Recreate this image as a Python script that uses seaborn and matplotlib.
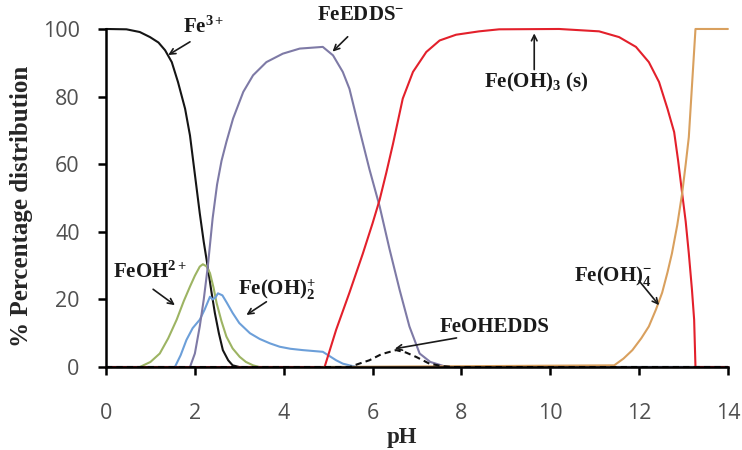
import numpy as np
import pandas as pd
import matplotlib
matplotlib.use("Agg")
import matplotlib.pyplot as plt
import seaborn as sns

# ---- data ----
ph_fe3 = [0.0, 0.46, 0.76, 0.99, 1.18, 1.33, 1.48, 1.62, 1.78, 1.89, 2.0, 2.11, 2.2, 2.29,
          2.37, 2.45, 2.54, 2.63, 2.75, 2.85, 3.0, 14.0]
v_fe3 = [100.0, 99.9, 99.1, 97.6, 96.0, 93.7, 90.2, 84.3, 76.4, 68.5, 57.0, 45.5, 37.0, 29.6,
         22.5, 16.0, 10.0, 5.0, 2.0, 0.5, 0.0, 0.0]

ph_feoh = [0.0, 0.76, 1.0, 1.21, 1.40, 1.59, 1.75, 1.89, 2.0, 2.11, 2.18, 2.26, 2.34, 2.42,
           2.49, 2.60, 2.71, 2.85, 3.01, 3.15, 3.31, 3.45, 14.0]
v_feoh = [0.0, 0.0, 1.5, 4.0, 8.5, 14.0, 19.5, 23.8, 27.0, 29.7, 30.4, 29.8, 27.8, 23.5,
          18.9, 13.5, 9.0, 5.5, 3.0, 1.5, 0.5, 0.0, 0.0]

ph_feoh2 = [0.0, 1.55, 1.68, 1.81, 1.95, 2.11, 2.22, 2.34, 2.40, 2.46, 2.52, 2.62, 2.72, 2.85,
            3.0, 3.24, 3.46, 3.69, 3.91, 4.15, 4.43, 4.70, 4.88, 5.0, 5.18, 5.33, 5.48, 5.65, 14.0]
v_feoh2 = [0.0, 0.0, 3.5, 8.0, 11.5, 14.0, 17.0, 20.8, 20.0, 20.5, 21.8, 21.2, 19.0, 16.0,
           13.0, 10.0, 8.3, 7.0, 6.0, 5.4, 5.0, 4.7, 4.5, 3.5, 2.0, 1.0, 0.5, 0.0, 0.0]

ph_feedds = [0.0, 1.89, 2.0, 2.11, 2.2, 2.29, 2.4, 2.5, 2.6, 2.71, 2.86, 3.09, 3.31, 3.61,
             3.98, 4.36, 4.88, 5.11, 5.33, 5.48, 5.71, 5.93, 6.16, 6.38, 6.61, 6.83, 7.06,
             7.30, 7.60, 7.80, 14.0]
v_feedds = [0.0, 0.0, 4.0, 12.0, 20.0, 29.6, 44.0, 54.0, 61.0, 66.6, 73.5, 81.4, 86.3, 90.2,
            92.7, 94.2, 94.7, 92.2, 87.3, 82.3, 70.0, 58.5, 47.5, 35.0, 22.8, 12.0, 4.0,
            1.5, 0.3, 0.0, 0.0]

ph_fe_s = [0.0, 4.92, 5.18, 5.48, 5.78, 6.0, 6.16, 6.31, 6.46, 6.68, 6.91, 7.21, 7.51, 7.88,
           8.4, 8.85, 10.2, 11.1, 11.55, 11.93, 12.22, 12.45, 12.64, 12.79, 12.88, 12.97,
           13.05, 13.12, 13.19, 13.24, 13.27, 14.0]
v_fe_s = [0.0, 0.0, 11.0, 22.0, 33.5, 42.5, 49.5, 57.5, 66.0, 79.4, 87.3, 93.2, 96.6, 98.3,
          99.3, 99.9, 100.0, 99.3, 97.6, 94.7, 90.2, 84.3, 76.4, 69.5, 61.0, 51.4,
          43.0, 33.6, 23.0, 14.0, 0.0, 0.0]

ph_fe4 = [4.9, 11.44, 11.65, 11.85, 12.05, 12.22, 12.38, 12.52, 12.64, 12.74, 12.86, 12.97,
          13.05, 13.12, 13.27, 14.0]
v_fe4 = [0.0, 0.5, 2.5, 5.0, 8.5, 12.0, 17.0, 22.0, 28.0, 33.6, 42.0, 51.4,
         60.0, 68.0, 100.0, 100.0]

ph_feohedds = [0.0, 5.48, 5.7, 5.93, 6.2, 6.53, 6.75, 6.98, 7.28, 7.55, 7.8, 14.0]
v_feohedds = [0.0, 0.0, 1.0, 2.0, 3.8, 5.0, 4.3, 3.0, 1.0, 0.3, 0.0, 0.0]

x_ticks = [0, 2, 4, 6, 8, 10, 12, 14]
y_ticks = [0, 20, 40, 60, 80, 100]

labels = {
    "fe3": r"Fe$^{\mathbf{3+}}$",
    "feedds": r"FeEDDS$^{\mathbf{-}}$",
    "feoh": r"FeOH$^{\mathbf{2+}}$",
    "feoh2": r"Fe(OH)$_{\mathbf{2}}^{\mathbf{+}}$",
    "fe_s": r"Fe(OH)$_{\mathbf{3}}$ (s)",
    "fe4": r"Fe(OH)$_{\mathbf{4}}^{\mathbf{-}}$",
    "feohedds": "FeOHEDDS",
}

# ---- style ----
sns.set_style("ticks")
plt.rcParams["mathtext.fontset"] = "custom"
plt.rcParams["mathtext.rm"] = "Liberation Serif:bold"
plt.rcParams["mathtext.bf"] = "Liberation Serif:bold"
plt.rcParams["mathtext.it"] = "Liberation Serif:bold"

fig = plt.figure(figsize=(7.42, 4.5), dpi=100)
ax = fig.add_axes([0.1429, 0.1844, 0.981 - 0.1429, 0.9356 - 0.1844])

series = [
    (ph_fe3, v_fe3, "#151515"),
    (ph_feoh, v_feoh, "#9DB463"),
    (ph_feoh2, v_feoh2, "#6C9FD9"),
    (ph_feedds, v_feedds, "#7E7AA6"),
    (ph_fe_s, v_fe_s, "#E3202B"),
    (ph_fe4, v_fe4, "#D9A05E"),
]
for xs, ys, col in series:
    df = pd.DataFrame({"pH": xs, "pct": ys})
    sns.lineplot(data=df, x="pH", y="pct", ax=ax, color=col, lw=1.5,
                 sort=False, estimator=None, clip_on=False)

df = pd.DataFrame({"pH": ph_feohedds, "pct": v_feohedds})
sns.lineplot(data=df, x="pH", y="pct", ax=ax, color="#111111", lw=1.5,
             sort=False, estimator=None, clip_on=False, linestyle=(0, (3, 2)))

ax.set_xlim(0, 14)
ax.set_ylim(0, 100)
ax.set_xticks(x_ticks)
ax.set_yticks(y_ticks)
sns.despine(ax=ax)
for s in ["left", "bottom"]:
    ax.spines[s].set_linewidth(1.8)
    ax.spines[s].set_color("black")
ax.tick_params(axis="both", direction="out", length=6, width=1.8, color="black",
               labelsize=15.5, labelcolor="#505050")
ax.tick_params(axis="x", pad=20)
ax.tick_params(axis="y", pad=13)
for lab in ax.get_xticklabels() + ax.get_yticklabels():
    lab.set_fontfamily("Open Sans")

ax.set_xlabel("pH", fontfamily="Liberation Serif", fontweight="bold", fontsize=16.5)
ax.set_ylabel("% Percentage distribution", fontfamily="Liberation Serif", fontweight="bold",
              fontsize=18)
ax.xaxis.set_label_coords(0.476, -0.178)
ax.yaxis.set_label_coords(-0.117, 0.475)

akw = dict(arrowstyle="->", color="#1a1a1a", lw=1.2, shrinkA=0, shrinkB=0)

def note(key, xy_text, xy_tail, xy_head):
    ax.text(xy_text[0], xy_text[1], labels[key], fontfamily="Liberation Serif",
            fontweight="bold", fontsize=15, color="#1a1a1a", ha="center", va="center",
            clip_on=False)
    ax.annotate("", xy=xy_head, xytext=xy_tail, arrowprops=akw, annotation_clip=False)

note("fe3", (2.2, 100.5), (1.89, 96.2), (1.40, 92.3))
note("feedds", (5.73, 104.0), (5.44, 97.7), (5.10, 93.3))
note("feoh", (0.99, 28.0), (1.06, 23.0), (1.55, 18.3))
note("feoh2", (3.85, 23.0), (3.61, 19.3), (3.16, 15.4))
note("fe_s", (9.69, 84.3), (9.64, 88.0), (9.64, 98.7))
note("fe4", (11.42, 27.0), (12.0, 25.5), (12.45, 18.3))
note("feohedds", (8.74, 11.7), (7.89, 8.6), (6.50, 5.4))

fig.savefig("out.png", dpi=100)
